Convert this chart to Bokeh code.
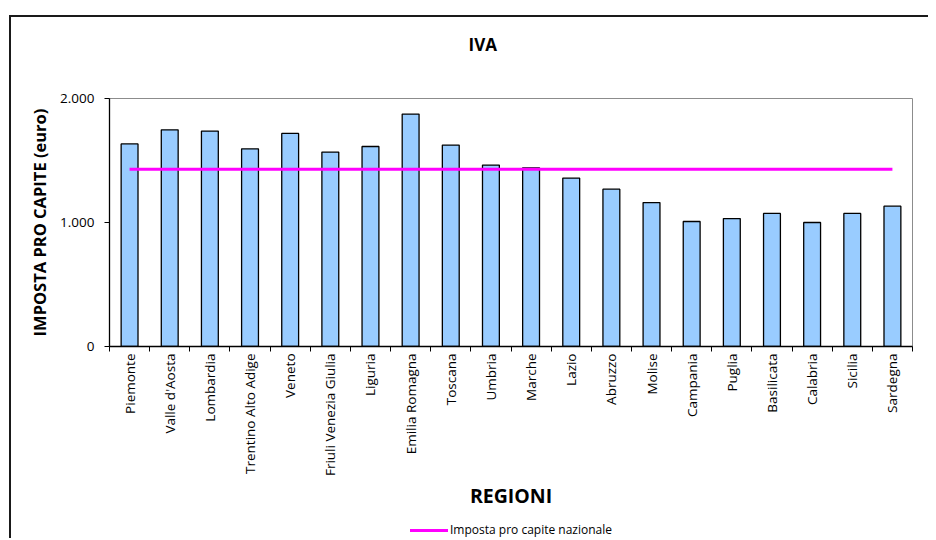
from bokeh.plotting import figure
from bokeh.models import FixedTicker, Range1d, Title, ColumnDataSource, Div
from bokeh.layouts import column
from bokeh.embed import file_html
from bokeh.resources import INLINE
import math

regions = ["Piemonte", "Valle d'Aosta", "Lombardia", "Trentino Alto Adige", "Veneto",
           "Friuli Venezia Giulia", "Liguria", "Emilia Romagna", "Toscana", "Umbria",
           "Marche", "Lazio", "Abruzzo", "Molise", "Campania", "Puglia", "Basilicata",
           "Calabria", "Sicilia", "Sardegna"]
iva_pro_capite = [1634, 1747, 1737, 1594, 1718, 1568, 1613, 1874, 1624, 1463,
                  1441, 1358, 1269, 1161, 1008, 1032, 1073, 1000, 1073, 1132]
nazionale = 1430
y_ticks = [0, 1000, 2000]
y_tick_labels = ["0", "1.000", "2.000"]
legend_label = "Imposta pro capite nazionale"

FONT = "Open Sans"
BORDER = "#1a1a1a"

xc = [i + 0.5 for i in range(len(regions))]
src = ColumnDataSource(dict(x=xc, top=iva_pro_capite, region=regions,
                            naz=[nazionale] * len(regions)))

p = figure(width=928, height=512, output_backend="svg", toolbar_location=None,
           x_range=Range1d(0, len(regions)), y_range=Range1d(0, max(y_ticks)),
           min_border_left=109, min_border_right=16, min_border_top=98,
           min_border_bottom=165)
p.background_fill_color = "white"
p.border_fill_color = None
p.outline_line_color = "#8c8c8c"
p.outline_line_width = 1
p.xgrid.visible = False
p.ygrid.visible = False

p.vbar(x="x", top="top", width=0.42, bottom=0, source=src,
       fill_color="#99CCFF", line_color="black", line_width=1.3)
p.line(x="x", y="naz", source=src, line_color="#FF00FF", line_width=3)

# title (a blank spacer line keeps it well above the plot area)
p.add_layout(Title(text=" ", text_font_size="1px", standoff=35), "above")
p.add_layout(Title(text="IVA", align="left", offset=359, standoff=10, text_font=FONT,
                   text_font_style="bold", text_font_size="17px",
                   text_color="black"), "above")

# x axis
xa = p.xaxis[0]
xa.ticker = FixedTicker(ticks=xc, minor_ticks=list(range(len(regions) + 1)))
xa.major_label_overrides = {x: r for x, r in zip(xc, regions)}
xa.major_label_orientation = math.pi / 2
xa.major_tick_out = 0
xa.major_tick_in = 0
xa.minor_tick_out = 5
xa.minor_tick_in = 0
xa.minor_tick_line_color = "black"
xa.axis_line_color = "black"
xa.axis_line_width = 1.3
xa.major_label_standoff = 2
xa.major_label_text_font = FONT
xa.major_label_text_font_size = "13.5px"
xa.major_label_text_color = "black"
xa.axis_label = "REGIONI"
xa.axis_label_text_font = FONT
xa.axis_label_text_font_style = "bold"
xa.axis_label_text_font_size = "19.5px"
xa.axis_label_text_color = "black"
xa.axis_label_standoff = 3

# y axis
ya = p.yaxis[0]
ya.ticker = FixedTicker(ticks=y_ticks, minor_ticks=[])
ya.major_label_overrides = {t: l for t, l in zip(y_ticks, y_tick_labels)}
ya.major_tick_out = 5
ya.major_tick_in = 0
ya.major_tick_line_color = "black"
ya.axis_line_color = "black"
ya.axis_line_width = 1.3
ya.major_label_standoff = 10
ya.major_label_text_font = FONT
ya.major_label_text_font_size = "13.5px"
ya.major_label_text_color = "black"
ya.axis_label = "IMPOSTA PRO CAPITE (euro)"
ya.axis_label_text_font = FONT
ya.axis_label_text_font_style = "bold"
ya.axis_label_text_font_size = "16.5px"
ya.axis_label_text_color = "black"
ya.axis_label_standoff = 6

# legend row below the chart
legend_html = (
    '<div style="display:flex;align-items:center;margin-left:405px;margin-top:3px;height:20px;">'
    '<span style="display:inline-block;width:38px;height:3px;background:#FF00FF;"></span>'
    f'<span style="margin-left:2px;font-family:\'Open Sans\';font-size:12px;color:black;white-space:nowrap;">{legend_label}</span>'
    '</div>'
)
leg = Div(text=legend_html, width=928, height=26)

layout = column(p, leg, spacing=0, width=928, height=538,
                styles={"background-color": "white",
                        "background-image": f"linear-gradient({BORDER}, {BORDER}), linear-gradient({BORDER}, {BORDER})",
                        "background-size": "2px 100%, 100% 2px",
                        "background-position": "9px 15px, 9px 15px",
                        "background-repeat": "no-repeat"})
open("out.html", "w").write(file_html(layout, INLINE))
